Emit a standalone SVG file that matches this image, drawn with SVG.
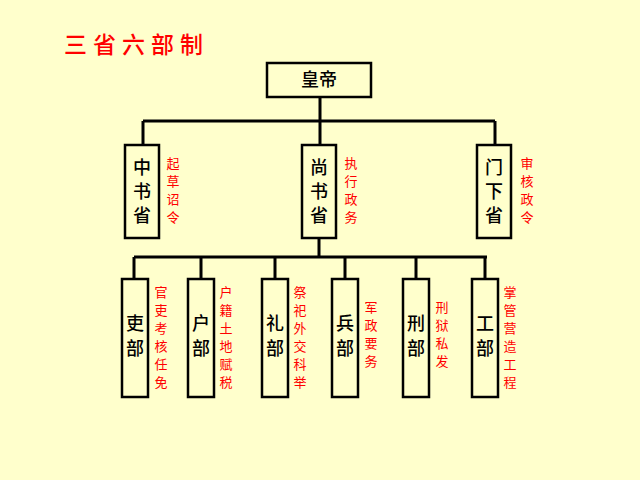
<svg xmlns="http://www.w3.org/2000/svg" width="640" height="480" viewBox="0 0 640 480">
<style>
.b{fill:none;stroke:#000;stroke-width:2.5}
.c{stroke:#000;stroke-width:3;fill:none}
.n{font-family:"Noto Sans CJK SC",sans-serif;font-size:18px;font-weight:500;fill:#000;text-anchor:middle}
.r{font-family:"Noto Sans CJK SC",sans-serif;font-size:13px;fill:#f00;text-anchor:middle}
</style>
<rect width="640" height="480" fill="#FFFFCC"/>
<text x="64" y="53" font-family="Noto Sans CJK SC,sans-serif" font-size="23" font-weight="500" letter-spacing="6" fill="#f00">三省六部制</text>
<g id="connectors">
<path class="c" d="M320 97V144M143 121H495M143 121V145M495 121V145M319 238V257M134 257H487M134 257V279M201 257V279M275 257V279M345 257V279M416 257V279M485 257V279"/>
</g>
<g id="emperor"><rect class="b" x="267" y="63" width="104" height="34"/><text class="n" x="319" y="86">皇帝</text></g>
<g id="zhongshu"><rect class="b" x="125" y="145" width="34" height="93"/><text class="n" x="142" y="174">中</text><text class="n" x="142" y="198">书</text><text class="n" x="142" y="222">省</text>
<text class="r"><tspan x="173" y="168">起</tspan><tspan x="173" y="186">草</tspan><tspan x="173" y="204">诏</tspan><tspan x="173" y="222">令</tspan></text></g>
<g id="shangshu"><rect class="b" x="302" y="145" width="34" height="93"/><text class="n" x="319" y="174">尚</text><text class="n" x="319" y="198">书</text><text class="n" x="319" y="222">省</text>
<text class="r"><tspan x="351" y="168">执</tspan><tspan x="351" y="186">行</tspan><tspan x="351" y="204">政</tspan><tspan x="351" y="222">务</tspan></text></g>
<g id="menxia"><rect class="b" x="477" y="145" width="34" height="93"/><text class="n" x="494" y="174">门</text><text class="n" x="494" y="198">下</text><text class="n" x="494" y="222">省</text>
<text class="r"><tspan x="527" y="168">审</tspan><tspan x="527" y="186">核</tspan><tspan x="527" y="204">政</tspan><tspan x="527" y="222">令</tspan></text></g>
<g id="li"><rect class="b" x="122" y="279" width="26" height="118"/><text class="n" x="135" y="330">吏</text><text class="n" x="135" y="355">部</text>
<text class="r"><tspan x="161" y="297">官</tspan><tspan x="161" y="315">吏</tspan><tspan x="161" y="333">考</tspan><tspan x="161" y="351">核</tspan><tspan x="161" y="369">任</tspan><tspan x="161" y="387">免</tspan></text></g>
<g id="hu"><rect class="b" x="188" y="279" width="26" height="118"/><text class="n" x="201" y="330">户</text><text class="n" x="201" y="355">部</text>
<text class="r"><tspan x="226" y="297">户</tspan><tspan x="226" y="315">籍</tspan><tspan x="226" y="333">土</tspan><tspan x="226" y="351">地</tspan><tspan x="226" y="369">赋</tspan><tspan x="226" y="387">税</tspan></text></g>
<g id="lib"><rect class="b" x="262" y="279" width="26" height="118"/><text class="n" x="275" y="330">礼</text><text class="n" x="275" y="355">部</text>
<text class="r"><tspan x="300" y="297">祭</tspan><tspan x="300" y="315">祀</tspan><tspan x="300" y="333">外</tspan><tspan x="300" y="351">交</tspan><tspan x="300" y="369">科</tspan><tspan x="300" y="387">举</tspan></text></g>
<g id="bing"><rect class="b" x="332" y="279" width="26" height="118"/><text class="n" x="345" y="330">兵</text><text class="n" x="345" y="355">部</text>
<text class="r"><tspan x="371" y="312">军</tspan><tspan x="371" y="330">政</tspan><tspan x="371" y="348">要</tspan><tspan x="371" y="366">务</tspan></text></g>
<g id="xing"><rect class="b" x="403" y="279" width="26" height="118"/><text class="n" x="416" y="330">刑</text><text class="n" x="416" y="355">部</text>
<text class="r"><tspan x="442" y="312">刑</tspan><tspan x="442" y="330">狱</tspan><tspan x="442" y="348">私</tspan><tspan x="442" y="366">发</tspan></text></g>
<g id="gong"><rect class="b" x="472" y="279" width="26" height="118"/><text class="n" x="485" y="330">工</text><text class="n" x="485" y="355">部</text>
<text class="r"><tspan x="510" y="297">掌</tspan><tspan x="510" y="315">管</tspan><tspan x="510" y="333">营</tspan><tspan x="510" y="351">造</tspan><tspan x="510" y="369">工</tspan><tspan x="510" y="387">程</tspan></text></g>
</svg>
